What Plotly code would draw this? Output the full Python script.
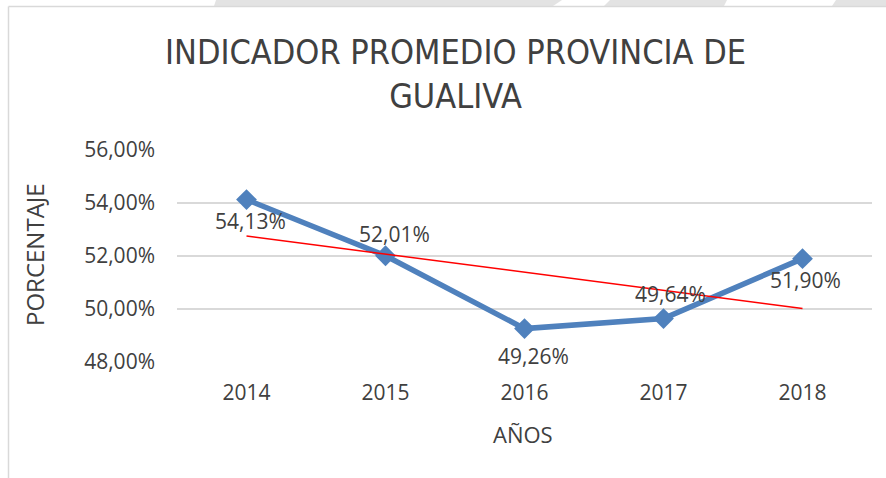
import numpy as np
import plotly.graph_objects as go

years = ["2014", "2015", "2016", "2017", "2018"]
values = [0.5413, 0.5201, 0.4926, 0.4964, 0.5190]
labels = ["54,13%", "52,01%", "49,26%", "49,64%", "51,90%"]
y_ticks = [0.48, 0.50, 0.52, 0.54, 0.56]
y_tick_text = ["48,00%", "50,00%", "52,00%", "54,00%", "56,00%"]

# label offsets (pixels) relative to each marker
label_dx = [4, 9, 9, 7, 3]
label_dy = [-21, 22, -27, 25, -21]

W, H = 886, 478
L, R, T, B = 177, 872, 150, 362

def px(x):
    return (x - L) / (R - L)

def py(y):
    return (B - y) / (B - T)

# linear trendline (least squares, as in Excel)
xi = np.arange(len(values))
slope, intercept = np.polyfit(xi, values, 1)
trend = [intercept, intercept + slope * xi[-1]]

TXT = "#404040"
FONT = "Open Sans"

fig = go.Figure()
fig.add_trace(go.Scatter(
    x=years, y=values, mode="lines+markers",
    line=dict(color="#4F81BD", width=5.5),
    marker=dict(symbol="diamond", size=16, color="#4F81BD"),
    showlegend=False, hoverinfo="skip",
))
fig.add_trace(go.Scatter(
    x=[years[0], years[-1]], y=trend, mode="lines",
    line=dict(color="#FF0000", width=1.5),
    showlegend=False, hoverinfo="skip",
))

gray = "#D9D9D9"
shapes = [
    # top page band
    dict(type="path", xref="paper", yref="paper",
         path=f"M {px(216)},{py(0)} L {px(886)},{py(0)} L {px(886)},{py(6)} L {px(214)},{py(6)} Z",
         fillcolor="#E3E3E3", line=dict(width=0), layer="below"),
    dict(type="path", xref="paper", yref="paper",
         path=f"M {px(562)},{py(0)} L {px(610)},{py(0)} L {px(604)},{py(6)} L {px(553)},{py(6)} Z",
         fillcolor="white", line=dict(width=0), layer="below"),
    dict(type="path", xref="paper", yref="paper",
         path=f"M {px(727)},{py(0)} L {px(836)},{py(0)} L {px(832)},{py(6)} L {px(724)},{py(6)} Z",
         fillcolor="white", line=dict(width=0), layer="below"),
    # chart border (top and left)
    dict(type="line", xref="paper", yref="paper",
         x0=px(8.5), x1=px(886), y0=py(6.5), y1=py(6.5), line=dict(color=gray, width=1.5)),
    dict(type="line", xref="paper", yref="paper",
         x0=px(8.5), x1=px(8.5), y0=py(6.5), y1=py(478), line=dict(color=gray, width=1.5)),
]

annotations = [
    dict(text="INDICADOR PROMEDIO PROVINCIA DE<br>GUALIVA", xref="paper", yref="paper",
         x=px(455), y=py(74), xanchor="center", yanchor="middle", showarrow=False,
         font=dict(family="Liberation Sans Narrow, DejaVu Sans Condensed, Open Sans",
                   size=34, color=TXT)),
    dict(text="AÑOS", xref="paper", yref="paper", x=px(523), y=py(434),
         xanchor="center", yanchor="middle", showarrow=False,
         font=dict(family=FONT, size=22, color=TXT)),
    dict(text="PORCENTAJE", xref="paper", yref="paper", x=px(34), y=py(255),
         xanchor="center", yanchor="middle", showarrow=False, textangle=-90,
         font=dict(family=FONT, size=24, color=TXT)),
]
for i, (v, t, dx, dy) in enumerate(zip(values, labels, label_dx, label_dy)):
    annotations.append(dict(
        text=t, x=i, y=v, xref="x", yref="y", showarrow=False,
        xanchor="center", yanchor="middle", xshift=dx, yshift=dy,
        font=dict(family=FONT, size=21, color=TXT)))

fig.update_layout(
    width=W, height=H,
    margin=dict(l=L, r=W - R, t=T, b=H - B),
    paper_bgcolor="white", plot_bgcolor="white",
    shapes=shapes,
    annotations=annotations,
    xaxis=dict(type="category", range=[-0.5, 4.5], showgrid=False, zeroline=False,
               showline=False, ticks="", ticklabelstandoff=16,
               tickfont=dict(family=FONT, size=21, color=TXT)),
    yaxis=dict(range=[0.48, 0.56], tickvals=y_ticks, ticktext=y_tick_text,
               showgrid=True, gridcolor=gray, gridwidth=1.5, zeroline=False,
               showline=False, ticks="", ticklabelstandoff=21,
               tickfont=dict(family=FONT, size=21, color=TXT)),
)

fig.write_html("out.html", config={"displayModeBar": False},
               post_script="document.body.style.margin='0';")
